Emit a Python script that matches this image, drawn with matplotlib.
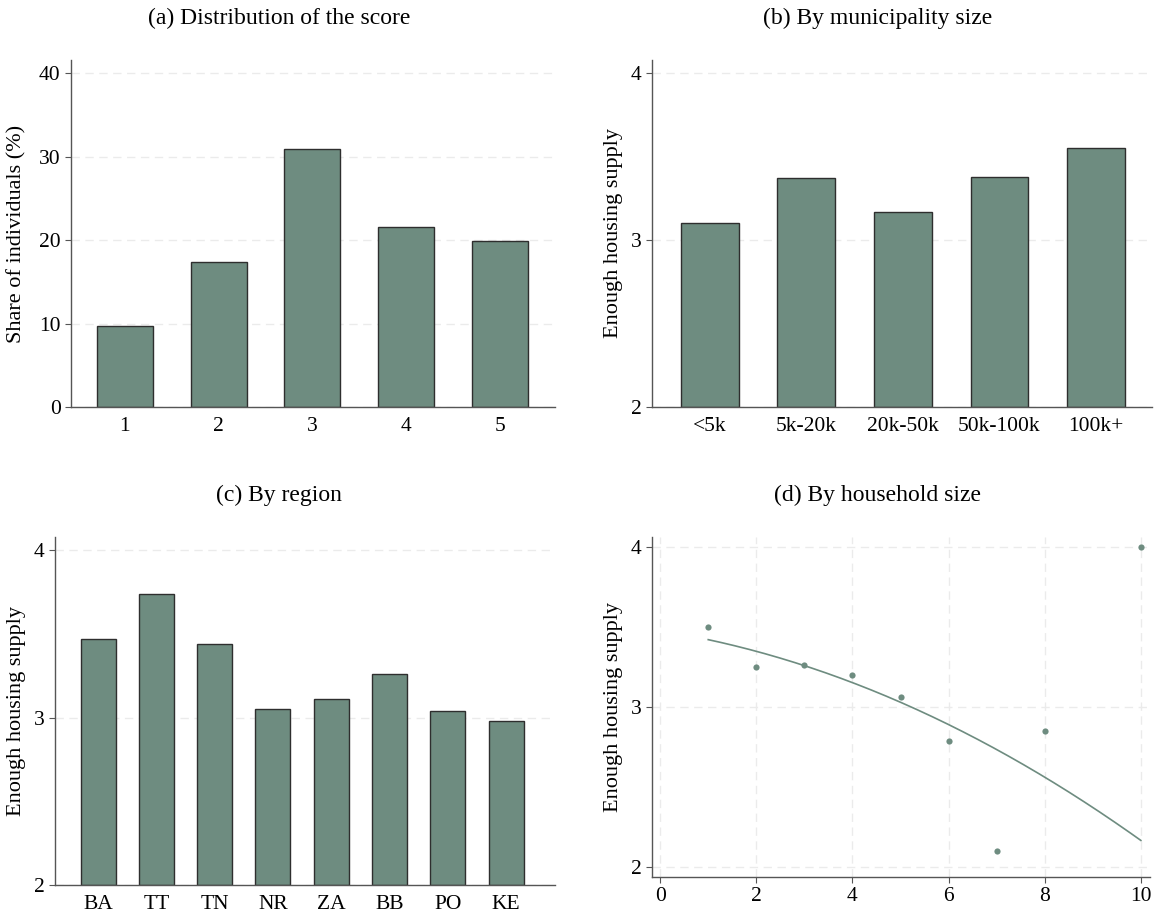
import numpy as np
import matplotlib.pyplot as plt

plt.rcParams['font.family'] = ['Liberation Serif', 'DejaVu Serif']

# (a) distribution of the score
score_cats = ['1', '2', '3', '4', '5']
score_share = [9.7, 17.4, 30.9, 21.6, 19.9]

# (b) by municipality size
muni_cats = ['<5k', '5k-20k', '20k-50k', '50k-100k', '100k+']
muni_vals = [3.10, 3.37, 3.17, 3.38, 3.55]

# (c) by region
region_cats = ['BA', 'TT', 'TN', 'NR', 'ZA', 'BB', 'PO', 'KE']
region_vals = [3.47, 3.74, 3.44, 3.05, 3.11, 3.26, 3.04, 2.98]

# (d) by household size: group means and quadratic fit
hh_size = [1, 2, 3, 4, 5, 6, 7, 8, 10]
hh_vals = [3.50, 3.25, 3.26, 3.20, 3.06, 2.79, 2.10, 2.85, 4.00]
qfit_coef = [-0.0083, -0.0478, 3.476]

bar_color = '#6e8c80'
edge_color = '#2e2e2e'
spine_color = '#555555'
grid_kw = dict(color='#ebebeb', linestyle=(0, (6, 4)), linewidth=1.0)

fig = plt.figure(figsize=(11.54, 9.17), dpi=100)
W, H = 1154, 917


def make_ax(left, top, right, bottom):
    return fig.add_axes([left / W, 1 - bottom / H, (right - left) / W, (bottom - top) / H])


def style(ax):
    for s in ['top', 'right']:
        ax.spines[s].set_visible(False)
    for s in ['left', 'bottom']:
        ax.spines[s].set_color(spine_color)
        ax.spines[s].set_linewidth(1.0)
    ax.tick_params(axis='both', labelsize=15.5, color=spine_color, length=4, width=0.8)
    ax.set_axisbelow(True)


def bars(ax, cats, vals, base):
    x = np.arange(len(cats))
    ax.bar(x, np.array(vals) - base, bottom=base, width=0.6, color=bar_color,
           edgecolor=edge_color, linewidth=1.0)
    ax.set_xticks(x)
    ax.set_xticklabels(cats)
    ax.tick_params(axis='x', length=0, pad=7)
    ax.yaxis.grid(True, **grid_kw)


def ylab(ax, text, xpos):
    ax.set_ylabel(text, fontsize=16)
    ax.yaxis.set_label_coords(xpos, 0.5)


# (a)
ax = make_ax(71, 60, 555, 407)
style(ax)
bars(ax, score_cats, score_share, 0)
ax.set_xlim(-0.576, 4.59)
ax.set_ylim(0, 41.6)
ax.set_yticks([0, 10, 20, 30, 40])
ylab(ax, 'Share of individuals (%)', -0.093)
fig.text(279 / W, 1 - 18 / H, '(a) Distribution of the score', ha='center', va='center', fontsize=17)

# (b)
ax = make_ax(652, 60, 1152, 407)
style(ax)
bars(ax, muni_cats, muni_vals, 2)
ax.set_xlim(-0.6, 4.58)
ax.set_ylim(2, 4.08)
ax.set_yticks([2, 3, 4])
ylab(ax, 'Enough housing supply', -0.058)
fig.text(878 / W, 1 - 18 / H, '(b) By municipality size', ha='center', va='center', fontsize=17)

# (c)
ax = make_ax(55, 537, 555, 885)
style(ax)
bars(ax, region_cats, region_vals, 2)
ax.set_xlim(-0.74, 7.84)
ax.set_ylim(2, 4.08)
ax.set_yticks([2, 3, 4])
ylab(ax, 'Enough housing supply', -0.058)
fig.text(279 / W, 1 - 495 / H, '(c) By region', ha='center', va='center', fontsize=17)

# (d)
ax = make_ax(652, 537, 1150, 877)
style(ax)
ax.grid(True, **grid_kw)
ax.scatter(hh_size, hh_vals, s=20, color=bar_color, zorder=3, linewidths=0)
xs = np.linspace(min(hh_size), max(hh_size), 200)
ax.plot(xs, np.polyval(qfit_coef, xs), color=bar_color, linewidth=1.2, zorder=2)
ax.set_xlim(-0.17, 10.19)
ax.set_ylim(1.94, 4.06)
ax.set_xticks([0, 2, 4, 6, 8, 10])
ax.set_yticks([2, 3, 4])
ylab(ax, 'Enough housing supply', -0.058)
fig.text(878 / W, 1 - 495 / H, '(d) By household size', ha='center', va='center', fontsize=17)

fig.savefig('out.png', dpi=100)
